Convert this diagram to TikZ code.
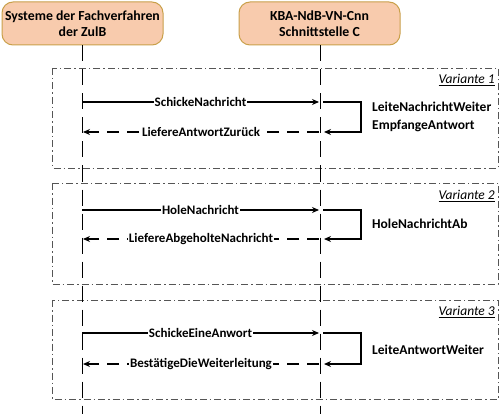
\documentclass[tikz,border=0pt]{standalone}
\usepackage{fontspec}
\setmainfont{Carlito}
\usetikzlibrary{arrows.meta}
\definecolor{hdrfill}{HTML}{F8CBAD}
\definecolor{hdrdraw}{HTML}{C9A04A}
\definecolor{framecol}{HTML}{555555}
\tikzset{
  hdr/.style={draw=hdrdraw, line width=1pt, fill=hdrfill, rounded corners=11pt, minimum width=161pt, minimum height=43pt, align=center, font=\fontsize{13.8}{16.5}\selectfont\bfseries, inner sep=0pt},
  life/.style={line width=1pt, dash pattern=on 16pt off 8pt},
  varframe/.style={draw=framecol, line width=0.8pt, dash pattern=on 7pt off 3pt on 1.5pt off 3pt},
  msg/.style={line width=1.3pt, -{Stealth[length=7pt,width=6pt]}},
  ret/.style={msg, dash pattern=on 12pt off 8pt},
  lbl/.style={fill=white, inner sep=1pt, font=\fontsize{13}{15}\selectfont\bfseries},
  side/.style={anchor=west, align=left, inner sep=0pt, font=\fontsize{13.5}{18}\selectfont\bfseries},
  vlabel/.style={anchor=east, inner sep=0pt, font=\fontsize{13.5}{15}\selectfont\itshape},
}
\begin{document}
\begin{tikzpicture}[x=1pt,y=-1pt]
\useasboundingbox (0,0) rectangle (500,414);
% frames
\draw[varframe] (52,68) rectangle (498,168);
\draw[varframe] (52,183) rectangle (498,284);
\draw[varframe] (52,300) rectangle (498,399);
\node[vlabel] (v1) at (495,80) {\underline{Variante 1}};
\node[vlabel] (v2) at (495,196) {\underline{Variante 2}};
\node[vlabel] (v3) at (495,312) {\underline{Variante 3}};
% headers
\node[hdr] (A) at (82.5,23.5) {Systeme der Fachverfahren\\der ZulB};
\node[hdr] (B) at (319.5,23.5) {KBA-NdB-VN-Cnn\\Schnittstelle C};
\coordinate (Aend) at (82,414);
\coordinate (Bend) at (320,414);
\draw[life] (A.south -| Aend) -- (Aend);
\draw[life] (B.south -| Bend) -- (Bend);
% variant 1
\coordinate (a1) at (82,102); \coordinate (b1) at (319,102);
\coordinate (b1r) at (323,102); \coordinate (l1) at (361,102);
\coordinate (l1d) at (361,132); \coordinate (b1d) at (324,132);
\coordinate (b1b) at (319,132); \coordinate (a1b) at (83,132);
\draw[msg] (a1) -- node[lbl]{SchickeNachricht} (b1);
\draw[msg] (b1r) -- (l1) -- (l1d) -- (b1d);
\draw[ret] (b1b) -- node[lbl]{LiefereAntwortZurück} (a1b);
\node[side] (s1) at (372,117) {LeiteNachrichtWeiter\\EmpfangeAntwort};
% variant 2
\coordinate (a2) at (82,210); \coordinate (b2) at (319,210);
\coordinate (b2r) at (323,210); \coordinate (l2) at (361,210);
\coordinate (l2d) at (361,239); \coordinate (b2d) at (324,239);
\coordinate (b2b) at (319,239); \coordinate (a2b) at (83,239);
\draw[msg] (a2) -- node[lbl]{HoleNachricht} (b2);
\draw[msg] (b2r) -- (l2) -- (l2d) -- (b2d);
\draw[ret] (b2b) -- node[lbl]{LiefereAbgeholteNachricht} (a2b);
\node[side] (s2) at (372,224) {HoleNachrichtAb};
% variant 3
\coordinate (a3) at (82,333); \coordinate (b3) at (319,333);
\coordinate (b3r) at (323,333); \coordinate (l3) at (361,333);
\coordinate (l3d) at (361,364); \coordinate (b3d) at (324,364);
\coordinate (b3b) at (319,364); \coordinate (a3b) at (83,364);
\draw[msg] (a3) -- node[lbl]{SchickeEineAnwort} (b3);
\draw[msg] (b3r) -- (l3) -- (l3d) -- (b3d);
\draw[ret] (b3b) -- node[lbl]{BestätigeDieWeiterleitung} (a3b);
\node[side] (s3) at (372,350) {LeiteAntwortWeiter};
\end{tikzpicture}
\end{document}
